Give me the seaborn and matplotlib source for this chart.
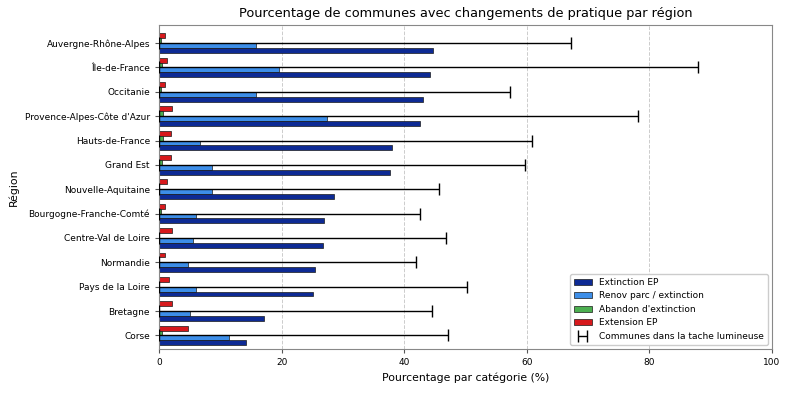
import numpy as np
import pandas as pd
import matplotlib
matplotlib.use("Agg")
import matplotlib.pyplot as plt
import seaborn as sns

regions = [
    "Auvergne-Rhône-Alpes", "Île-de-France", "Occitanie",
    "Provence-Alpes-Côte d'Azur", "Hauts-de-France", "Grand Est",
    "Nouvelle-Aquitaine", "Bourgogne-Franche-Comté", "Centre-Val de Loire",
    "Normandie", "Pays de la Loire", "Bretagne", "Corse",
]
extinction = [44.7, 44.2, 43.1, 42.6, 38.0, 37.7, 28.5, 26.9, 26.8, 25.4, 25.1, 17.2, 14.2]
renov = [15.8, 19.6, 15.8, 27.4, 6.7, 8.7, 8.7, 6.1, 5.6, 4.8, 6.1, 5.1, 11.5]
abandon = [0.4, 0.55, 0.4, 0.7, 0.7, 0.55, 0.0, 0.4, 0.0, 0.0, 0.0, 0.0, 0.55]
extension = [1.0, 1.35, 0.9, 2.2, 1.9, 1.9, 1.35, 1.0, 2.2, 1.0, 1.6, 2.2, 4.8]
tache = [67.2, 88.0, 57.3, 78.1, 60.8, 59.7, 45.7, 42.6, 46.9, 42.0, 50.3, 44.5, 47.2]

categories = ["Extinction EP", "Renov parc / extinction", "Abandon d'extinction", "Extension EP"]
colors = {
    "Extinction EP": "#0d2a94",
    "Renov parc / extinction": "#3d8ee8",
    "Abandon d'extinction": "#4caf50",
    "Extension EP": "#d7191c",
}

df = pd.DataFrame({
    "region": regions * 4,
    "categorie": np.repeat(categories, len(regions)),
    "valeur": extinction + renov + abandon + extension,
})

sns.set_style("white")
plt.rcParams['font.family'] = ['DejaVu Sans']
plt.rcParams['text.color'] = 'black'
plt.rcParams['axes.labelcolor'] = 'black'
plt.rcParams['xtick.labelcolor'] = 'black'
plt.rcParams['ytick.labelcolor'] = 'black'

fig, ax = plt.subplots(figsize=(7.91, 3.94), dpi=100)
fig.subplots_adjust(left=0.201, right=0.976, top=0.9365, bottom=0.114)

# ordre de dessin : barre du haut (Extension) jusqu'à Extinction en bas
hue_order = categories[::-1]
sns.barplot(
    data=df, y="region", x="valeur", hue="categorie",
    order=regions, hue_order=hue_order, palette=colors, saturation=1,
    orient="h", width=0.8, edgecolor="#1a1a1a", linewidth=0.5,
    ax=ax, legend=True,
)

ypos = np.arange(len(regions))
ax.errorbar(
    np.zeros(len(regions)), ypos,
    xerr=[np.zeros(len(regions)), tache],
    fmt="none", ecolor="black", elinewidth=1, capsize=4, capthick=1,
    label="Communes dans la tache lumineuse", zorder=3,
)

ax.set_xlim(0, 100)
ax.set_ylim(12.56, -0.74)
ax.set_xticks([0, 20, 40, 60, 80, 100])
ax.grid(axis="x", linestyle="--", color="#cccccc", linewidth=0.7)
ax.set_axisbelow(True)
for s in ax.spines.values():
    s.set_color("#888888")
    s.set_linewidth(0.8)

ax.set_title("Pourcentage de communes avec changements de pratique par région", fontsize=9.3)
ax.set_xlabel("Pourcentage par catégorie (%)", fontsize=7.8)
ax.set_ylabel("Région", fontsize=7.8)
ax.tick_params(axis="both", labelsize=6.5, length=3, left=True, bottom=True,
               color="#555555", labelcolor="black")

handles, labels = ax.get_legend_handles_labels()
lookup = dict(zip(labels, handles))
order = categories + ["Communes dans la tache lumineuse"]
ax.legend([lookup[l] for l in order], order, loc="lower right", fontsize=6.5,
          frameon=True, framealpha=1)

fig.savefig("out.png", dpi=100)
